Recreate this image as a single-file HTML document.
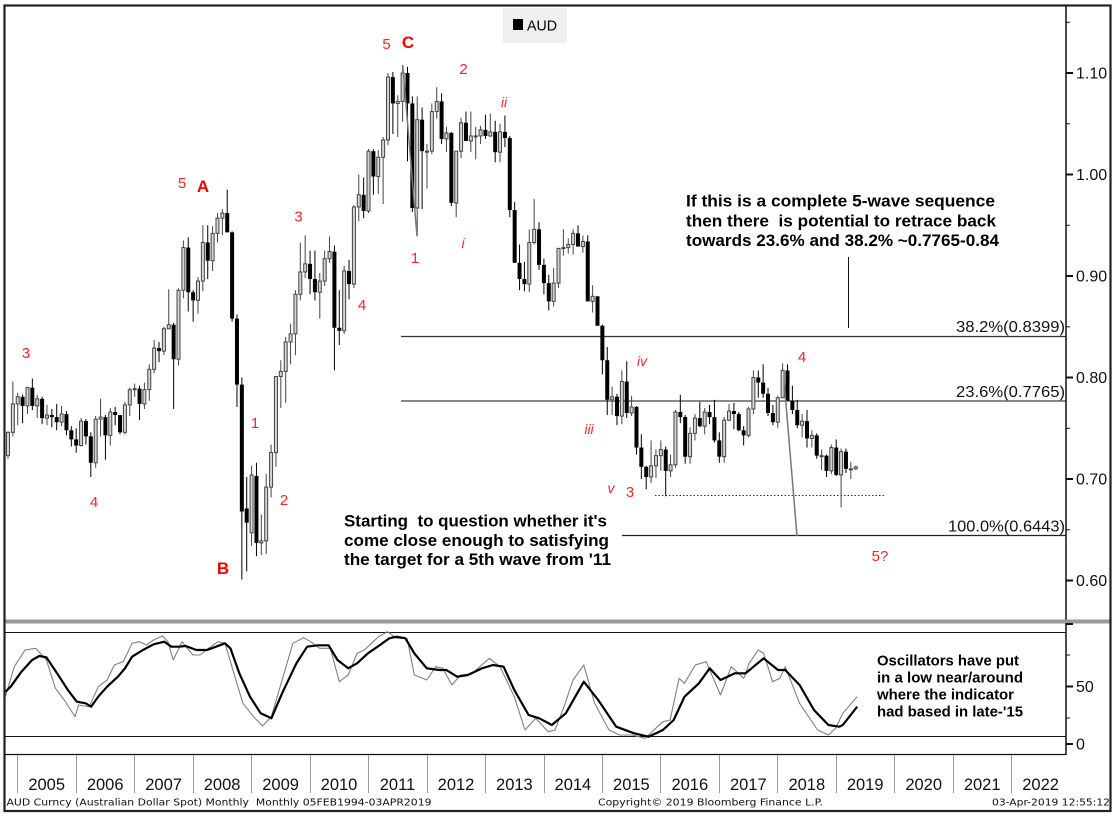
<!DOCTYPE html>
<html><head><meta charset="utf-8">
<style>
html,body{margin:0;padding:0;background:#fff;}
svg{display:block;}
text{white-space:pre;}
</style></head>
<body>
<svg id="chart" xmlns="http://www.w3.org/2000/svg" width="1115" height="816" viewBox="0 0 1115 816" font-family="'Liberation Sans', Arial, sans-serif">
<rect x="0" y="0" width="1115" height="816" fill="#fff"/>

<!-- legend -->
<rect x="503" y="8" width="64" height="35" fill="#efefef"/>
<rect x="513" y="19" width="10" height="11" fill="#000"/>
<text x="527" y="30.5" font-size="15" fill="#000" textLength="30" lengthAdjust="spacingAndGlyphs">AUD</text>

<!-- fib lines -->
<line x1="401" y1="336.5" x2="1066" y2="336.5" stroke="#333" stroke-width="1.2"/>
<line x1="401" y1="401" x2="1066" y2="401" stroke="#888" stroke-width="2"/>
<line x1="622" y1="535.5" x2="1066" y2="535.5" stroke="#222" stroke-width="1.2"/>
<text x="956" y="332" font-size="16" fill="#111" textLength="109" lengthAdjust="spacingAndGlyphs">38.2%(0.8399)</text>
<text x="956" y="397" font-size="16" fill="#111" textLength="109" lengthAdjust="spacingAndGlyphs">23.6%(0.7765)</text>
<text x="948" y="531.5" font-size="16" fill="#111" textLength="117" lengthAdjust="spacingAndGlyphs">100.0%(0.6443)</text>

<!-- dotted support line -->
<line x1="655" y1="495.5" x2="886" y2="495.5" stroke="#333" stroke-width="1" stroke-dasharray="1.5,2"/>

<!-- candles -->
<g id="candles"></g>

<!-- annotation lines -->
<line x1="402.7" y1="65" x2="417" y2="236" stroke="#777" stroke-width="1.5"/>
<line x1="784" y1="380" x2="797" y2="536" stroke="#777" stroke-width="1.5"/>
<line x1="848.5" y1="257" x2="848.5" y2="328" stroke="#111" stroke-width="1"/>

<!-- wave labels -->
<g fill="#f22" font-size="15" text-anchor="middle">
<text x="386.5" y="49">5</text>
<text x="463.5" y="74">2</text>
<text x="182" y="188">5</text>
<text x="298.5" y="221.5">3</text>
<text x="415" y="263">1</text>
<text x="362" y="310">4</text>
<text x="26" y="358">3</text>
<text x="255" y="428">1</text>
<text x="94" y="507">4</text>
<text x="284" y="505">2</text>
<text x="802" y="362">4</text>
<text x="630" y="497">3</text>
<text x="880" y="561">5?</text>
</g>
<g fill="#f22" font-size="14" font-style="italic" text-anchor="middle">
<text x="504" y="107">ii</text>
<text x="463" y="248">i</text>
<text x="642" y="366">iv</text>
<text x="589" y="434">iii</text>
<text x="611" y="493">v</text>
</g>
<g fill="#f00" font-size="17" font-weight="bold" text-anchor="middle">
<text x="408" y="48">C</text>
<text x="203" y="192">A</text>
<text x="223" y="574">B</text>
</g>

<!-- annotation texts -->
<g fill="#000" font-size="16.5" font-weight="bold">
<text x="686" y="206.5" textLength="309" lengthAdjust="spacingAndGlyphs">If this is a complete 5-wave sequence</text>
<text x="686" y="226.3" textLength="310" lengthAdjust="spacingAndGlyphs">then there  is potential to retrace back</text>
<text x="686" y="246" textLength="313" lengthAdjust="spacingAndGlyphs">towards 23.6% and 38.2% ~0.7765-0.84</text>
<text x="344" y="526.7" textLength="263" lengthAdjust="spacingAndGlyphs">Starting  to question whether it's</text>
<text x="344" y="546" textLength="265" lengthAdjust="spacingAndGlyphs">come close enough to satisfying</text>
<text x="344" y="565" textLength="267" lengthAdjust="spacingAndGlyphs">the target for a 5th wave from '11</text>
</g>

<!-- price axis -->
<line x1="1066" y1="6" x2="1066" y2="620" stroke="#111" stroke-width="1.5"/>
<g stroke="#111" stroke-width="1">
<line x1="1066" y1="22.3" x2="1070" y2="22.3"/>
<line x1="1066" y1="123.8" x2="1070" y2="123.8"/>
<line x1="1066" y1="225.3" x2="1070" y2="225.3"/>
<line x1="1066" y1="326.8" x2="1070" y2="326.8"/>
<line x1="1066" y1="428.3" x2="1070" y2="428.3"/>
<line x1="1066" y1="529.8" x2="1070" y2="529.8"/>
</g>
<g stroke="#111" stroke-width="2">
<line x1="1066" y1="73" x2="1073" y2="73"/>
<line x1="1066" y1="174.5" x2="1073" y2="174.5"/>
<line x1="1066" y1="276" x2="1073" y2="276"/>
<line x1="1066" y1="377.5" x2="1073" y2="377.5"/>
<line x1="1066" y1="479" x2="1073" y2="479"/>
<line x1="1066" y1="580.5" x2="1073" y2="580.5"/>
</g>
<g fill="#111" font-size="16">
<text x="1076" y="78.5">1.10</text>
<text x="1076" y="180">1.00</text>
<text x="1076" y="281.5">0.90</text>
<text x="1076" y="383">0.80</text>
<text x="1076" y="484.5">0.70</text>
<text x="1076" y="586">0.60</text>
</g>

<!-- separator -->
<rect x="5" y="619.5" width="1106" height="4" fill="#9a9a9a"/>

<!-- oscillator panel -->
<line x1="5" y1="632.5" x2="1066" y2="632.5" stroke="#111" stroke-width="1"/>
<line x1="5" y1="736.5" x2="1066" y2="736.5" stroke="#111" stroke-width="1"/>
<line x1="5" y1="754.5" x2="1066" y2="754.5" stroke="#111" stroke-width="1.2"/>
<line x1="1066" y1="623" x2="1066" y2="755" stroke="#111" stroke-width="1.5"/>
<g stroke="#111" stroke-width="1">
<line x1="1066" y1="655" x2="1070" y2="655"/>
<line x1="1066" y1="718" x2="1070" y2="718"/>
</g>
<g stroke="#111" stroke-width="2">
<line x1="1066" y1="624" x2="1073" y2="624"/>
<line x1="1066" y1="686.5" x2="1073" y2="686.5"/>
<line x1="1066" y1="744" x2="1073" y2="744"/>
</g>
<g fill="#111" font-size="16">
<text x="1076" y="692">50</text>
<text x="1076" y="749.5">0</text>
</g>

<polyline fill="none" stroke="#808080" stroke-width="1.1" stroke-linejoin="round" points="5.4,696.7 14.3,666.7 25,650 35.7,648.3 46.4,660 55.4,688.3 64.3,700 75,716.7 78.6,705 89.3,706.7 98.2,686.7 107.1,680 114.3,665 123.2,661.7 132.1,643.3 139.3,641.7 146.4,645 153.6,640 162.5,636 167.9,641.7 173.2,660 182.1,641.7 192.9,655 200,655 207.1,649.3 217.9,641.7 225,643.3 233.9,673.3 242.9,703.3 253.6,716.7 262.5,726 271.4,716.7 282.1,680 292.9,643.3 303.6,637.7 310.7,641.7 319.6,648.3 330.4,648.3 339.3,681.7 348.2,675 357.1,653.3 364.3,650 371.4,643.3 378.6,636.7 387.5,631.7 396.4,638.3 407.1,638.3 414.3,675 426.8,680 435.7,666.7 442.9,668.3 451.8,685 460.7,675 471.4,674 489.3,658.3 500,666.7 514.3,696.7 525,730 535.7,718.3 548.2,731.7 555,730 564,706.7 573,680 583.8,665 594.6,703.3 609,730 619.7,735 632.3,735 644.9,738.3 652.1,731.7 662.9,721.7 670.1,720 679.1,678.3 684.5,683.3 695.3,665 706.1,661.7 720.5,695 731.3,666.7 743.8,678.3 749.2,663.3 758.2,650 763.6,653.3 772.6,681.7 779.8,678.3 785.2,666.7 799.6,703.3 817.6,730 828.4,735 835.6,728.3 842.8,713.3 857.2,696.7"/>
<polyline fill="none" stroke="#000" stroke-width="2.2" stroke-linejoin="round" points="5.4,691.7 10.7,686.7 21.4,671.7 32.1,660 39.3,656 46.4,657.3 57.1,673.3 67.9,690 76.8,701.7 85.7,703.3 91.1,706.7 98.2,696.7 107.1,686.7 117.9,676.7 125,668.3 132.1,656.7 142.9,650 153.6,644.3 164.3,641.7 171.4,646.7 178.6,646.7 185.7,646 196.4,650 207.1,650 214.3,647.3 225,643.3 230.4,648.3 239.3,673.3 250,696.7 260.7,713.3 271.4,718.3 282.1,693.3 296.4,663.3 307.1,646.7 317.9,645.3 328.6,645.3 337.5,660 348.2,668.3 357.1,663.3 367.9,653.3 378.6,646 389.3,638.3 396.4,636.7 405.4,638.3 414.3,653.3 426.8,668.3 439.3,670 446.4,670 457.1,676.7 467.9,675 482.1,668.3 492.9,665 503.6,666.7 514.3,690 528.6,715 539.3,718.3 551.8,725 565.8,713.3 583.8,681.7 598.2,700 616.2,726.7 634.1,733.3 648.5,736.7 662.9,730 673.7,720 684.5,696.7 698.9,683.3 709.7,668.3 720.5,680 734.9,673.3 745.6,673.3 763.6,658.3 778,670 785.2,670 799.6,685 814,710 828.4,725 839.2,726.7 842.8,725 857.2,706.7"/>

<g fill="#000" font-size="15" font-weight="bold">
<text x="877" y="665.5" textLength="142" lengthAdjust="spacingAndGlyphs">Oscillators have put</text>
<text x="877" y="682.5" textLength="146" lengthAdjust="spacingAndGlyphs">in a low near/around</text>
<text x="877" y="699.5" textLength="137" lengthAdjust="spacingAndGlyphs">where the indicator</text>
<text x="877" y="716.5" textLength="146" lengthAdjust="spacingAndGlyphs">had based in late-'15</text>
</g>

<!-- year band -->
<g stroke="#999" stroke-width="1">
<line x1="17.5" y1="755" x2="17.5" y2="793"/>
<line x1="76.5" y1="755" x2="76.5" y2="793"/>
<line x1="134.5" y1="755" x2="134.5" y2="793"/>
<line x1="193.5" y1="755" x2="193.5" y2="793"/>
<line x1="251.5" y1="755" x2="251.5" y2="793"/>
<line x1="310.5" y1="755" x2="310.5" y2="793"/>
<line x1="368.5" y1="755" x2="368.5" y2="793"/>
<line x1="427.5" y1="755" x2="427.5" y2="793"/>
<line x1="485.5" y1="755" x2="485.5" y2="793"/>
<line x1="544.5" y1="755" x2="544.5" y2="793"/>
<line x1="602.5" y1="755" x2="602.5" y2="793"/>
<line x1="660.5" y1="755" x2="660.5" y2="793"/>
<line x1="719.5" y1="755" x2="719.5" y2="793"/>
<line x1="777.5" y1="755" x2="777.5" y2="793"/>
<line x1="836.5" y1="755" x2="836.5" y2="793"/>
<line x1="894.5" y1="755" x2="894.5" y2="793"/>
<line x1="953.5" y1="755" x2="953.5" y2="793"/>
<line x1="1011.5" y1="755" x2="1011.5" y2="793"/>
</g>
<g fill="#111" font-size="16.5" text-anchor="middle">
<text x="46.7" y="790">2005</text>
<text x="105.2" y="790">2006</text>
<text x="163.6" y="790">2007</text>
<text x="222.1" y="790">2008</text>
<text x="280.6" y="790">2009</text>
<text x="339" y="790">2010</text>
<text x="397.5" y="790">2011</text>
<text x="456" y="790">2012</text>
<text x="514.4" y="790">2013</text>
<text x="572.9" y="790">2014</text>
<text x="631.4" y="790">2015</text>
<text x="689.8" y="790">2016</text>
<text x="748.3" y="790">2017</text>
<text x="806.8" y="790">2018</text>
<text x="865.2" y="790">2019</text>
<text x="923.7" y="790">2020</text>
<text x="982.2" y="790">2021</text>
<text x="1040.6" y="790">2022</text>
</g>

<!-- footer -->
<g fill="#111" font-size="10" font-family="'DejaVu Sans', 'Liberation Sans', sans-serif">
<text x="6.5" y="805.5" textLength="425" lengthAdjust="spacingAndGlyphs">AUD Curncy (Australian Dollar Spot) Monthly  Monthly 05FEB1994-03APR2019</text>
<text x="598" y="805.5" textLength="225" lengthAdjust="spacingAndGlyphs">Copyright© 2019 Bloomberg Finance L.P.</text>
<text x="992" y="805.5" textLength="118" lengthAdjust="spacingAndGlyphs">03-Apr-2019 12:55:12</text>
</g>

<!-- outer border -->
<rect x="4.5" y="5.5" width="1106" height="805.5" fill="none" stroke="#222" stroke-width="2.2"/>
</svg>

<script>
(function(){
var D=[
[.7230,.7470,.7200,.7460],[.7460,.7960,.7420,.7740],[.7740,.7850,.7530,.7810],
[.7810,.7830,.7550,.7720],[.7720,.7910,.7640,.7900],[.7900,.7990,.7680,.7720],[.7720,.7830,.7600,.7790],[.7790,.7810,.7540,.7600],[.7600,.7730,.7530,.7630],[.7630,.7690,.7510,.7610],[.7610,.7740,.7480,.7560],[.7560,.7720,.7520,.7640],[.7640,.7670,.7430,.7480],[.7480,.7520,.7320,.7390],[.7390,.7500,.7260,.7330],
[.7330,.7600,.7320,.7570],[.7570,.7590,.7340,.7420],[.7420,.7460,.7020,.7160],[.7160,.7620,.7110,.7590],[.7590,.7790,.7420,.7610],[.7610,.7630,.7190,.7430],[.7430,.7700,.7330,.7660],[.7660,.7710,.7530,.7630],[.7630,.7630,.7440,.7460],[.7460,.7760,.7440,.7730],[.7730,.7900,.7620,.7880],[.7880,.7940,.7810,.7890],
[.7890,.7920,.7580,.7740],[.7740,.7950,.7690,.7880],[.7880,.8130,.7770,.8080],[.8080,.8370,.8040,.8290],[.8290,.8350,.8150,.8260],[.8260,.8500,.8220,.8480],[.8480,.8870,.8480,.8520],[.8520,.8540,.7690,.8180],[.8180,.8880,.8120,.8860],[.8860,.9350,.8780,.9280],[.9280,.9380,.8650,.8840],[.8840,.8860,.8550,.8760],
[.8760,.8990,.8630,.8950],[.8950,.9500,.8850,.9330],[.9330,.9500,.8970,.9150],[.9150,.9490,.9050,.9420],[.9420,.9620,.9330,.9570],[.9570,.9660,.9400,.9620],[.9620,.9850,.9450,.9430],[.9430,.9440,.8550,.8580],[.8580,.8620,.7710,.7930],[.7930,.8000,.6010,.6680],[.6710,.7020,.6090,.6570],[.6470,.7130,.6340,.7040],
[.7030,.7160,.6240,.6370],[.6370,.6650,.6250,.6390],[.6390,.7050,.6260,.6920],[.6920,.7340,.6820,.7260],[.7260,.8000,.7120,.8010],[.8010,.8170,.7700,.8060],[.8060,.8400,.7750,.8350],[.8350,.8530,.8130,.8430],[.8430,.8860,.8220,.8820],[.8820,.9330,.8760,.9040],[.9040,.9400,.8980,.9120],[.9120,.9250,.8820,.8970],
[.8970,.9250,.8760,.8840],[.8840,.9030,.8580,.8950],[.8950,.9250,.8900,.9170],[.9170,.9390,.9130,.9240],[.9240,.9300,.8070,.8490],[.8490,.8860,.8320,.8460],[.8460,.9100,.8430,.9050],[.9050,.9160,.8770,.8920],[.8920,.9700,.8880,.9680],[.9680,1.0000,.9540,.9800],[.9800,.9970,.9570,.9640],[.9640,1.0250,.9620,1.0230],
[1.0230,1.0250,.9800,.9980],[.9980,1.0240,.9810,1.0170],[1.0170,1.0370,.9710,1.0340],[1.0340,1.1000,1.0290,1.0960],[1.0960,1.1010,1.0400,1.0700],[1.0700,1.0780,1.0370,1.0720],[1.0720,1.1080,1.0520,1.1000],[1.1000,1.1060,1.0130,1.0700],[1.0700,1.0770,.9630,.9670],[.9670,1.0770,.9390,1.0540],[1.0540,1.0660,.9660,1.0230],[1.0230,1.0300,.9860,1.0230],
[1.0230,1.0700,1.0200,1.0620],[1.0620,1.0860,1.0550,1.0720],[1.0720,1.0800,1.0300,1.0350],[1.0350,1.0470,1.0220,1.0410],[1.0410,1.0420,.9690,.9720],[.9720,1.0230,.9580,1.0230],[1.0230,1.0560,1.0160,1.0510],[1.0510,1.0620,1.0330,1.0330],[1.0330,1.0620,1.0220,1.0380],[1.0380,1.0470,1.0150,1.0380],[1.0380,1.0480,1.0300,1.0440],[1.0440,1.0590,1.0350,1.0380],
[1.0380,1.0600,1.0370,1.0420],[1.0420,1.0530,1.0120,1.0220],[1.0220,1.0500,1.0120,1.0420],[1.0420,1.0580,1.0270,1.0360],[1.0360,1.0380,.9580,.9650],[.9650,.9730,.9130,.9130],[.9130,.9310,.8860,.8970],[.8970,.9140,.8850,.8920],[.8920,.9460,.8840,.9330],[.9330,.9760,.9310,.9460],[.9460,.9530,.9060,.9110],[.9110,.9170,.8820,.8930],
[.8930,.9010,.8660,.8750],[.8750,.9080,.8700,.8930],[.8930,.9280,.8880,.9270],[.9270,.9460,.9200,.9280],[.9280,.9370,.9220,.9310],[.9310,.9460,.9210,.9420],[.9420,.9500,.9290,.9290],[.9290,.9400,.9230,.9340],[.9340,.9400,.8750,.8750],[.8750,.8910,.8640,.8800],[.8800,.8800,.8510,.8510],[.8510,.8520,.8030,.8170],
[.8170,.8300,.7630,.7780],[.7780,.7910,.7630,.7810],[.7810,.7840,.7530,.7620],[.7620,.8070,.7540,.7960],[.7960,.8160,.7600,.7650],[.7650,.7820,.7620,.7710],[.7710,.7720,.7240,.7310],[.7310,.7440,.7000,.7120],[.7120,.7130,.6900,.7020],[.7020,.7380,.6960,.7130],[.7130,.7290,.7010,.7230],[.7230,.7380,.7080,.7290],
[.7290,.7320,.6830,.7080],[.7080,.7240,.7020,.7140],[.7140,.7680,.7110,.7660],[.7660,.7830,.7550,.7610],[.7610,.7630,.7150,.7220],[.7220,.7510,.7150,.7450],[.7450,.7640,.7380,.7600],[.7600,.7760,.7510,.7520],[.7520,.7700,.7440,.7660],[.7660,.7730,.7540,.7610],[.7610,.7780,.7360,.7380],[.7380,.7460,.7160,.7220],
[.7220,.7610,.7160,.7580],[.7580,.7740,.7570,.7670],[.7670,.7750,.7490,.7640],[.7640,.7660,.7470,.7480],[.7480,.7520,.7330,.7430],[.7430,.7710,.7410,.7690],[.7690,.8070,.7640,.8000],[.8000,.8070,.7800,.7950],[.7950,.8130,.7800,.7840],[.7840,.7900,.7620,.7650],[.7650,.7730,.7530,.7560],[.7560,.7820,.7500,.7800],
[.7800,.8140,.7800,.8070],[.8070,.8130,.7770,.7770],[.7770,.7920,.7640,.7680],[.7680,.7780,.7500,.7530],[.7530,.7640,.7410,.7570],[.7570,.7680,.7310,.7400],[.7400,.7480,.7310,.7430],[.7430,.7450,.7200,.7230],[.7230,.7290,.7090,.7230],[.7230,.7240,.7020,.7080],[.7080,.7340,.7050,.7310],[.7310,.7390,.7030,.7040],
[.7040,.7300,.6720,.7270],[.7270,.7300,.7060,.7100],[.7100,.7170,.7000,.7100],[.7100,.7130,.7090,.7120]
];
var ns='http://www.w3.org/2000/svg';
var g=document.getElementById('candles');
function Y(p){return 73+(1.10-p)*1015;}
function el(n,a){var e=document.createElementNS(ns,n);for(var k in a){e.setAttribute(k,a[k]);}g.appendChild(e);}
for(var i=0;i<D.length;i++){
 var o=D[i][0],h=D[i][1],l=D[i][2],c=D[i][3];
 h=Math.max(h,o,c);l=Math.min(l,o,c);
 var x=22.6+(i-3)*4.872;
 var up=c>=o;
 el('line',{x1:x,x2:x,y1:Y(h),y2:Y(l),stroke:up?'#444':'#000','stroke-width':1});
 var yt=Y(Math.max(o,c)),yb=Y(Math.min(o,c)),hh=Math.max(1,yb-yt);
 if(up){el('rect',{x:x-1.5,y:yt,width:3,height:hh,fill:'#d4d4d4',stroke:'#444','stroke-width':1});}
 else{el('rect',{x:x-2,y:yt,width:4,height:hh,fill:'#000'});}
}
})();
</script>
</body></html>
